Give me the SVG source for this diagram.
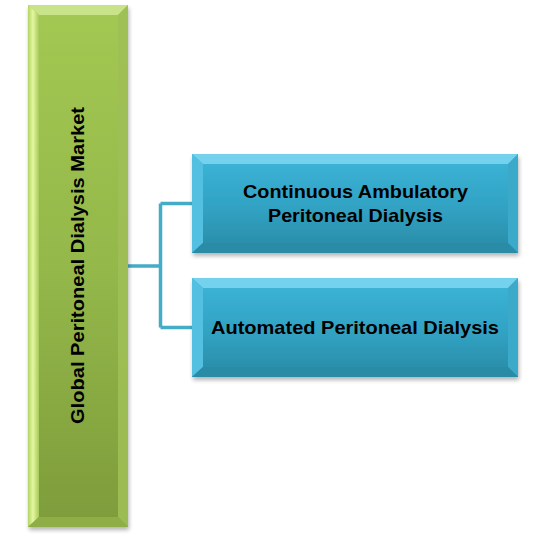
<svg xmlns="http://www.w3.org/2000/svg" width="546" height="540" viewBox="0 0 546 540">
<defs>
<linearGradient id="gGreen" x1="0" y1="0" x2="0" y2="1">
<stop offset="0" stop-color="#a3c852"/>
<stop offset="0.5" stop-color="#94b84a"/>
<stop offset="1" stop-color="#7e9c3b"/>
</linearGradient>
<linearGradient id="gGreenL" x1="0" y1="0" x2="1" y2="0">
<stop offset="0" stop-color="#b4d466"/>
<stop offset="0.45" stop-color="#e4f7a0"/>
<stop offset="1" stop-color="#a6c95a"/>
</linearGradient>
<linearGradient id="gBlue" x1="0" y1="0" x2="0" y2="1">
<stop offset="0" stop-color="#3db5d8"/>
<stop offset="0.55" stop-color="#31a2c3"/>
<stop offset="1" stop-color="#2a8aa4"/>
</linearGradient>
<filter id="sh" x="-10%" y="-10%" width="120%" height="120%">
<feGaussianBlur in="SourceAlpha" stdDeviation="2"/>
<feOffset dx="1" dy="3"/>
<feComponentTransfer><feFuncA type="linear" slope="0.3"/></feComponentTransfer>
<feMerge><feMergeNode/><feMergeNode in="SourceGraphic"/></feMerge>
</filter>
</defs>
<style>
.t{font-family:"Liberation Sans",Arial,sans-serif;font-weight:bold;font-size:19px;fill:#000;text-anchor:middle}
.conn{fill:none;stroke:#45acc8;stroke-width:3.5}
</style>
<g id="connectors">
<path class="conn" d="M128,266 H160.5 M160.5,203.5 V327.5 M160.5,203.5 H192 M160.5,327.5 H192"/>
</g>
<g id="market">
<g filter="url(#sh)">
<rect x="28" y="5" width="100" height="522" fill="url(#gGreen)"/>
<polygon points="28,5 128,5 118,15 39,15" fill="#c9e38a"/>
<polygon points="28,5 39,15 39,517 28,527" fill="url(#gGreenL)"/>
<polygon points="128,5 128,527 118,517 118,15" fill="#9ebf55" opacity="0.9"/>
<polygon points="28,527 39,517 118,517 128,527" fill="#8fae47"/>
</g>
<text class="t" transform="translate(84,265.5) rotate(-90)" x="0" y="0" textLength="317" lengthAdjust="spacingAndGlyphs">Global Peritoneal Dialysis Market</text>
</g>
<g id="capd">
<g filter="url(#sh)">
<rect x="192" y="154" width="326" height="99" fill="url(#gBlue)"/>
<polygon points="192,154 518,154 508,164 203,164" fill="#74d2ee"/>
<polygon points="192,154 203,164 203,243 192,253" fill="#52c0e2"/>
<polygon points="518,154 518,253 508,243 508,164" fill="#3aa9c9"/>
<polygon points="192,253 203,243 508,243 518,253" fill="#2b8ba6"/>
</g>
<text class="t" x="355.5" y="198" textLength="225" lengthAdjust="spacingAndGlyphs">Continuous Ambulatory</text>
<text class="t" x="355.5" y="222" textLength="175" lengthAdjust="spacingAndGlyphs">Peritoneal Dialysis</text>
</g>
<g id="apd">
<g filter="url(#sh)">
<rect x="192" y="278" width="326" height="99" fill="url(#gBlue)"/>
<polygon points="192,278 518,278 508,288 203,288" fill="#74d2ee"/>
<polygon points="192,278 203,288 203,367 192,377" fill="#52c0e2"/>
<polygon points="518,278 518,377 508,367 508,288" fill="#3aa9c9"/>
<polygon points="192,377 203,367 508,367 518,377" fill="#2b8ba6"/>
</g>
<text class="t" x="355" y="334" textLength="288" lengthAdjust="spacingAndGlyphs">Automated Peritoneal Dialysis</text>
</g>
</svg>
